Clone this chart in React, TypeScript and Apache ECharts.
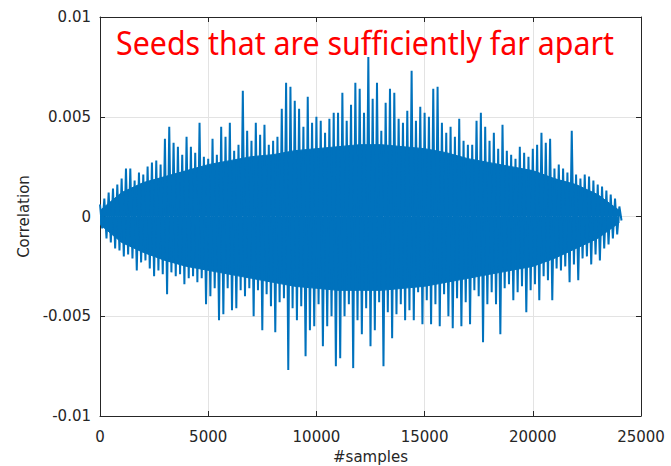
import React, { useEffect, useRef } from "react";
import * as echarts from "echarts";

// Local maxima of the correlation trace, one every 200 samples starting at sample 0
const peakValues = [
  0.0006, 0.0009, 0.0012, 0.0014, 0.0016, 0.0019, 0.0024, 0.0024, 0.0018, 0.0022,
  0.0021, 0.0025, 0.0027, 0.0028, 0.0026, 0.0039, 0.0045, 0.0037, 0.0035, 0.0031,
  0.0040, 0.0035, 0.0032, 0.0047, 0.0030, 0.0029, 0.0039, 0.0031, 0.0045, 0.0040,
  0.0047, 0.0033, 0.0036, 0.0063, 0.0043, 0.0038, 0.0047, 0.0041, 0.0046, 0.0036,
  0.0038, 0.0040, 0.0054, 0.0067, 0.0065, 0.0058, 0.0054, 0.0045, 0.0060, 0.0047,
  0.0050, 0.0048, 0.0042, 0.0049, 0.0052, 0.0052, 0.0062, 0.0048, 0.0056, 0.0067,
  0.0064, 0.0052, 0.0080, 0.0059, 0.0067, 0.0043, 0.0057, 0.0064, 0.0062, 0.0049,
  0.0047, 0.0053, 0.0073, 0.0048, 0.0055, 0.0052, 0.0050, 0.0064, 0.0065, 0.0047,
  0.0042, 0.0045, 0.0040, 0.0049, 0.0038, 0.0036, 0.0036, 0.0048, 0.0052, 0.0045,
  0.0038, 0.0042, 0.0034, 0.0046, 0.0033, 0.0031, 0.0029, 0.0035, 0.0032, 0.0030,
  0.0034, 0.0036, 0.0042, 0.0037, 0.0039, 0.0024, 0.0026, 0.0024, 0.0022, 0.0043,
  0.0021, 0.0019, 0.0021, 0.0020, 0.0018, 0.0016, 0.0015, 0.0013, 0.0011, 0.0009,
  0.0005,
];

// Local minima of the correlation trace, one every 200 samples starting at sample 100
const troughValues = [
  -0.0006, -0.0011, -0.0013, -0.0016, -0.0017, -0.0020, -0.0019, -0.0021, -0.0027, -0.0023,
  -0.0022, -0.0026, -0.0030, -0.0027, -0.0029, -0.0039, -0.0028, -0.0030, -0.0029, -0.0034,
  -0.0031, -0.0030, -0.0033, -0.0031, -0.0044, -0.0040, -0.0036, -0.0052, -0.0049, -0.0036,
  -0.0047, -0.0046, -0.0037, -0.0040, -0.0036, -0.0050, -0.0037, -0.0057, -0.0039, -0.0045,
  -0.0058, -0.0043, -0.0041, -0.0077, -0.0046, -0.0052, -0.0045, -0.0070, -0.0057, -0.0055,
  -0.0044, -0.0065, -0.0055, -0.0050, -0.0075, -0.0071, -0.0050, -0.0044, -0.0076, -0.0052,
  -0.0059, -0.0046, -0.0065, -0.0057, -0.0043, -0.0075, -0.0048, -0.0061, -0.0049, -0.0044,
  -0.0052, -0.0047, -0.0052, -0.0038, -0.0054, -0.0042, -0.0054, -0.0044, -0.0055, -0.0039,
  -0.0050, -0.0056, -0.0041, -0.0055, -0.0043, -0.0054, -0.0037, -0.0040, -0.0063, -0.0044,
  -0.0038, -0.0044, -0.0059, -0.0036, -0.0034, -0.0042, -0.0038, -0.0035, -0.0048, -0.0037,
  -0.0034, -0.0042, -0.0030, -0.0032, -0.0042, -0.0026, -0.0027, -0.0025, -0.0033, -0.0024,
  -0.0032, -0.0021, -0.0020, -0.0024, -0.0019, -0.0022, -0.0016, -0.0014, -0.0011, -0.0009,
  -0.0002,
];

// Solid core of the trace (edge of the densely filled region), every 1000 samples
const coreSamples = [
  0, 1000, 2000, 3000, 4000, 5000, 6000, 7000, 8000, 9000, 10000, 11000, 12000,
  13000, 14000, 15000, 16000, 17000, 18000, 19000, 20000, 21000, 22000, 23000, 24000,
];
const coreUpper = [
  0.0003, 0.0012, 0.0017, 0.0020, 0.0023, 0.0026, 0.0028, 0.0030, 0.0031, 0.0033,
  0.0034, 0.0035, 0.0036, 0.0036, 0.0035, 0.0034, 0.0032, 0.0029, 0.0027, 0.0025,
  0.0023, 0.0019, 0.0016, 0.0011, 0.0003,
];
const coreLower = [
  -0.0004, -0.0013, -0.0018, -0.0022, -0.0025, -0.0027, -0.0029, -0.0031, -0.0033, -0.0035,
  -0.0036, -0.0037, -0.0037, -0.0037, -0.0036, -0.0035, -0.0033, -0.0031, -0.0029, -0.0027,
  -0.0025, -0.0021, -0.0016, -0.0011, -0.0003,
];

const peakSpacing = 200; // samples between successive maxima
const troughOffset = 100; // samples from a maximum to the next minimum

const xTickValues = [0, 5000, 10000, 15000, 20000, 25000];
const yTickValues = [-0.01, -0.005, 0, 0.005, 0.01];

const titleText = "Seeds that are sufficiently far apart";
const xAxisName = "#samples";
const yAxisName = "Correlation";

export default function App() {
  const ref = useRef<HTMLDivElement>(null);

  useEffect(() => {
    if (!ref.current) return;
    const chart = echarts.init(ref.current, undefined, { renderer: "svg" });

    const data: [number, number][] = [];
    for (let i = 0; i < peakValues.length; i++) {
      data.push([i * peakSpacing, peakValues[i]]);
      if (i < troughValues.length) {
        data.push([i * peakSpacing + troughOffset, troughValues[i]]);
      }
    }
    const upperData = coreSamples.map((s, i) => [s, coreUpper[i]]);
    const lowerData = coreSamples.map((s, i) => [s, coreLower[i]]);

    const xMin = xTickValues[0];
    const xMax = xTickValues[xTickValues.length - 1];
    const xInt = xTickValues[1] - xTickValues[0];
    const yMin = yTickValues[0];
    const yMax = yTickValues[yTickValues.length - 1];
    const yInt = yTickValues[1] - yTickValues[0];

    const axisColor = "#262626";
    const gridColor = "#e3e3e3";
    const lineColor = "#0072BD";
    const labelFont = {
      fontFamily: "DejaVu Sans",
      fontSize: 15,
      color: axisColor,
    };
    const fmt = (v: number) => String(v);

    const coreSeries = (d: number[][]) => ({
      type: "line",
      xAxisIndex: 0,
      yAxisIndex: 0,
      data: d,
      showSymbol: false,
      symbol: "none",
      silent: true,
      lineStyle: { color: lineColor, width: 1 },
      areaStyle: { color: lineColor, opacity: 1, origin: 0 },
      z: 2,
    });

    chart.setOption({
      animation: false,
      backgroundColor: "#ffffff",
      grid: {
        left: 100,
        right: 30,
        top: 17,
        bottom: 50,
        containLabel: false,
        outerBoundsMode: "none",
      },
      xAxis: [
        {
          type: "value",
          min: xMin,
          max: xMax,
          interval: xInt,
          name: xAxisName,
          nameLocation: "middle",
          nameGap: 33,
          nameTextStyle: { ...labelFont, fontSize: 15 },
          axisLine: { show: true, onZero: false, lineStyle: { color: axisColor, width: 1 } },
          axisTick: { show: true, inside: true, length: 5, lineStyle: { color: axisColor } },
          axisLabel: { ...labelFont, margin: 13, formatter: fmt },
          splitLine: { show: true, lineStyle: { color: gridColor, width: 1 } },
        },
        {
          type: "value",
          position: "top",
          min: xMin,
          max: xMax,
          interval: xInt,
          axisLine: { show: true, onZero: false, lineStyle: { color: axisColor, width: 1 } },
          axisTick: { show: true, inside: true, length: 5, lineStyle: { color: axisColor } },
          axisLabel: { show: false },
          splitLine: { show: false },
        },
      ],
      yAxis: [
        {
          type: "value",
          min: yMin,
          max: yMax,
          interval: yInt,
          name: yAxisName,
          nameLocation: "middle",
          nameGap: 65,
          nameTextStyle: { ...labelFont, fontSize: 15 },
          axisLine: { show: true, onZero: false, lineStyle: { color: axisColor, width: 1 } },
          axisTick: { show: true, inside: true, length: 5, lineStyle: { color: axisColor } },
          axisLabel: { ...labelFont, margin: 9, formatter: fmt },
          splitLine: { show: true, lineStyle: { color: gridColor, width: 1 } },
        },
        {
          type: "value",
          position: "right",
          min: yMin,
          max: yMax,
          interval: yInt,
          axisLine: { show: true, onZero: false, lineStyle: { color: axisColor, width: 1 } },
          axisTick: { show: true, inside: true, length: 5, lineStyle: { color: axisColor } },
          axisLabel: { show: false },
          splitLine: { show: false },
        },
      ],
      series: [
        coreSeries(upperData),
        coreSeries(lowerData),
        {
          type: "line",
          xAxisIndex: 0,
          yAxisIndex: 0,
          data,
          showSymbol: false,
          symbol: "none",
          lineStyle: { color: lineColor, width: 2, join: "miter" },
          itemStyle: { color: lineColor },
          z: 3,
        },
      ],
      graphic: [
        {
          type: "text",
          left: 116,
          top: 25,
          scaleX: 0.92,
          z: 10,
          style: {
            text: titleText,
            fill: "#ff0000",
            fontFamily: "Noto Sans",
            fontSize: 33,
          },
        },
      ],
    });

    return () => {
      chart.dispose();
    };
  }, []);

  return (
    <div
      ref={ref}
      style={{ position: "absolute", left: 0, top: 0, width: 671, height: 466 }}
    />
  );
}
